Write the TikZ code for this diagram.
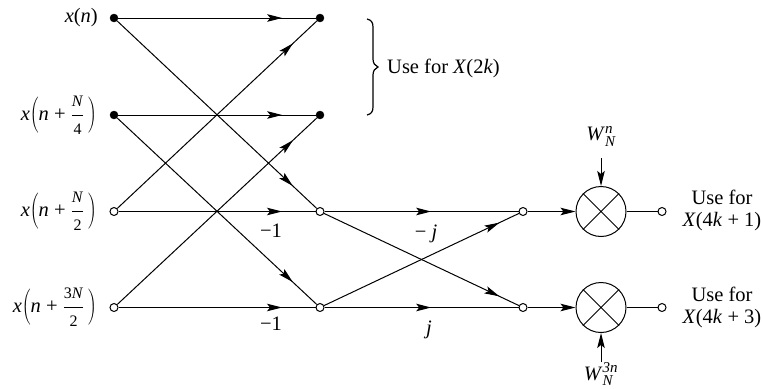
\documentclass[tikz,border=0pt]{standalone}
\usepackage[no-math]{fontspec}
\setmainfont{Liberation Serif}
\usetikzlibrary{arrows.meta,decorations.markings}
\newcommand{\smallfr}[1]{\mbox{\fontsize{16}{16}\selectfont #1}}
\newcommand{\xlabel}[2]{\textit{x}$\displaystyle\left(\mbox{\textit{n} + }\frac{\smallfr{#1}}{\smallfr{#2}}\,\right)$}
\tikzset{
  x=1pt,y=-1pt,
  every node/.style={font=\fontsize{20.5}{24}\selectfont},
  sig/.style={line width=1pt},
  filled/.style={circle,fill=black,draw=black,inner sep=0pt,minimum size=8pt},
  open/.style={circle,fill=white,draw=black,line width=1pt,inner sep=0pt,minimum size=8pt},
  lab/.style={inner sep=0pt,anchor=east},
  txt/.style={inner sep=0pt},
  mult/.style={circle,draw=black,line width=1pt,inner sep=0pt,minimum size=50pt},
  head/.style={-{Stealth[length=15pt,width=7.5pt,inset=3pt]},sig},
  along/.style={sig,postaction={decorate,decoration={markings,mark=at position #1 with {\arrow{Stealth[length=15pt,width=7.5pt,inset=3pt]}}}}}
}
\begin{document}
\begin{tikzpicture}
\useasboundingbox (0,0) rectangle (762,388);
% column nodes
\node[filled] (a0) at (114,18) {};
\node[filled] (a1) at (114,115) {};
\node[open] (a2) at (114,211.5) {};
\node[open] (a3) at (114,307.5) {};
\node[filled] (b0) at (320,18) {};
\node[filled] (b1) at (320,115) {};
\node[open] (b2) at (320,211.5) {};
\node[open] (b3) at (320,307.5) {};
\node[open] (c2) at (523,211.5) {};
\node[open] (c3) at (523,307.5) {};
\node[mult] (m2) at (601,211.5) {};
\node[mult] (m3) at (601,307.5) {};
\node[open] (d2) at (662,211.5) {};
\node[open] (d3) at (662,307.5) {};
\coordinate (w2s) at (601,158);
\coordinate (w3s) at (601,362);
% connectors
\draw[along=0.83] (a0) -- (b0);
\draw[along=0.83] (a1) -- (b1);
\draw[along=0.83] (a2) -- (b2);
\draw[along=0.83] (a3) -- (b3);
\draw[along=0.88] (a2) -- (b0);
\draw[along=0.88] (a3) -- (b1);
\draw[along=0.88] (a0) -- (b2);
\draw[along=0.88] (a1) -- (b3);
\draw[along=0.55] (b2) -- (c2);
\draw[along=0.55] (b3) -- (c3);
\draw[along=0.9] (b2) -- (c3);
\draw[along=0.9] (b3) -- (c2);
\draw[head] (c2) -- (m2);
\draw[head] (c3) -- (m3);
\draw[sig] (m2) -- (d2);
\draw[sig] (m3) -- (d3);
\draw[head] (w2s) -- (m2);
\draw[head] (w3s) -- (m3);
\draw[sig] (m2.45) -- (m2.225) (m2.135) -- (m2.315);
\draw[sig] (m3.45) -- (m3.225) (m3.135) -- (m3.315);
% labels
\node[lab] (l0) at (98,18) {\textit{x}(\textit{n})};
\node[lab] (l1) at (97,115) {\xlabel{\textit{N}}{4}};
\node[lab] (l2) at (97,211.5) {\xlabel{\textit{N}}{2}};
\node[lab] (l3) at (97,307.5) {\xlabel{3\textit{N}}{2}};
\node[txt] (n1) at (271,231) {−1};
\node[txt] (n2) at (271,324) {−1};
\node[txt] (j1) at (426,234) {− \textit{j}};
\node[txt] (j2) at (429,330) {\textit{j}};
\node[txt] (w2) at (601,136) {$\mbox{\textit{W}}^{\mbox{\fontsize{15}{15}\selectfont\itshape n}}_{\mbox{\fontsize{15}{15}\selectfont\itshape N}}$};
\node[txt] (w3) at (601,374) {$\mbox{\textit{W}}^{\mbox{\fontsize{15}{15}\selectfont\itshape 3n}}_{\mbox{\fontsize{15}{15}\selectfont\itshape N}}$};
\node[txt] (u1) at (722,197) {Use for};
\node[txt] (v1) at (722,222) {\textit{X}(4\textit{k} + 1)};
\node[txt] (u2) at (722,294) {Use for};
\node[txt] (v2) at (722,319) {\textit{X}(4\textit{k} + 3)};
\node[txt,anchor=west] (u0) at (387,68) {Use for \textit{X}(2\textit{k})};
% brace
\draw[line width=1.2pt] (367,19) .. controls (371,20) and (373,22) .. (373,27)
  -- (373,59) .. controls (373,63) and (375,66) .. (378,67)
  .. controls (375,68) and (373,71) .. (373,75)
  -- (373,107) .. controls (373,112) and (371,114) .. (367,115);
\end{tikzpicture}
\end{document}
